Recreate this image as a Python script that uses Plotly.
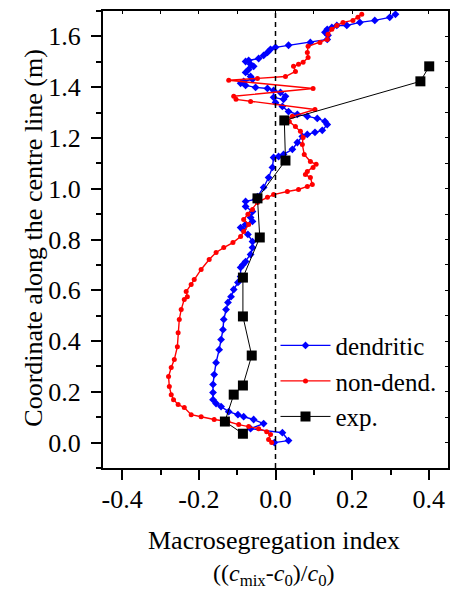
import plotly.graph_objects as go

# ---------------- data ----------------
dend_x = [-0.003, 0.034, 0.018, -0.065, -0.031, -0.057, -0.083, -0.098, -0.122, -0.142,
          -0.155, -0.163, -0.163, -0.163, -0.160, -0.155, -0.147, -0.142, -0.137, -0.135,
          -0.129, -0.124, -0.116, -0.109, -0.098, -0.091, -0.091, -0.085, -0.078, -0.065,
          -0.060, -0.060, -0.072, -0.085, -0.091, -0.078, -0.060, -0.065, -0.060, -0.078,
          -0.078, -0.052, -0.047, -0.031, -0.018, -0.008, -0.005, 0.008, 0.021, 0.044,
          0.057, 0.070, 0.083, 0.103, 0.122, 0.135, 0.129, 0.109, 0.083, 0.057,
          0.034, 0.018, 0.000, -0.005, 0.021, 0.026, 0.013, -0.005, -0.021, -0.052,
          -0.078, -0.091, -0.083, -0.060, -0.065, -0.078, -0.070, -0.057, -0.065, -0.078,
          -0.070, -0.044, -0.031, -0.021, -0.013, 0.000, 0.034, 0.091, 0.135, 0.137,
          0.129, 0.135, 0.147, 0.160, 0.186, 0.220, 0.259, 0.298, 0.313]
dend_y = [0.000, 0.008, 0.039, 0.055, 0.075, 0.091, 0.102, 0.110, 0.122, 0.142,
          0.154, 0.169, 0.197, 0.229, 0.268, 0.315, 0.366, 0.406, 0.445, 0.485,
          0.524, 0.552, 0.575, 0.603, 0.631, 0.654, 0.690, 0.701, 0.713, 0.741,
          0.768, 0.792, 0.820, 0.839, 0.847, 0.859, 0.871, 0.887, 0.910, 0.930,
          0.950, 0.958, 0.969, 1.005, 1.044, 1.084, 1.123, 1.127, 1.135, 1.155,
          1.182, 1.206, 1.214, 1.222, 1.230, 1.253, 1.265, 1.277, 1.285, 1.293,
          1.304, 1.324, 1.340, 1.360, 1.352, 1.364, 1.379, 1.387, 1.395, 1.399,
          1.407, 1.415, 1.423, 1.431, 1.442, 1.458, 1.470, 1.482, 1.490, 1.501,
          1.505, 1.513, 1.525, 1.537, 1.549, 1.557, 1.565, 1.576, 1.588, 1.604,
          1.616, 1.628, 1.635, 1.643, 1.643, 1.655, 1.663, 1.675, 1.687]

nond_x = [-0.010, -0.018, -0.013, -0.023, -0.044, -0.070, -0.096, -0.124, -0.160, -0.194,
          -0.220, -0.238, -0.254, -0.266, -0.272, -0.277, -0.279, -0.272, -0.264, -0.256,
          -0.254, -0.251, -0.246, -0.238, -0.230, -0.233, -0.220, -0.212, -0.194, -0.173,
          -0.155, -0.135, -0.111, -0.091, -0.083, -0.070, -0.083, -0.072, -0.060, -0.047,
          -0.021, -0.005, 0.031, 0.060, 0.083, 0.096, 0.091, 0.078, 0.083, 0.098,
          0.106, 0.091, 0.075, 0.070, 0.072, 0.065, 0.052, 0.036, 0.023, 0.044,
          0.103, -0.065, -0.103, -0.109, 0.098, -0.122, -0.047, 0.026, 0.052, 0.047,
          0.060, 0.072, 0.085, 0.083, 0.085, 0.116, 0.135, 0.137, 0.147, 0.160,
          0.176, 0.202, 0.215, 0.225]
nond_y = [0.000, 0.012, 0.032, 0.043, 0.055, 0.063, 0.071, 0.083, 0.091, 0.102,
          0.110, 0.138, 0.150, 0.169, 0.189, 0.221, 0.260, 0.296, 0.327, 0.378,
          0.433, 0.485, 0.524, 0.564, 0.575, 0.595, 0.623, 0.642, 0.682, 0.721,
          0.749, 0.768, 0.788, 0.812, 0.832, 0.859, 0.879, 0.899, 0.918, 0.946,
          0.966, 0.977, 0.989, 0.997, 1.009, 1.017, 1.044, 1.056, 1.068, 1.084,
          1.096, 1.107, 1.135, 1.174, 1.202, 1.226, 1.245, 1.265, 1.273, 1.285,
          1.312, 1.344, 1.352, 1.364, 1.395, 1.427, 1.434, 1.442, 1.462, 1.482,
          1.490, 1.498, 1.517, 1.537, 1.561, 1.576, 1.588, 1.608, 1.628, 1.643,
          1.655, 1.663, 1.675, 1.687]

exp_x = [-0.085, -0.132, -0.109, -0.085, -0.062, -0.085, -0.085, -0.041, -0.047, 0.026,
         0.023, 0.378, 0.401]
exp_y = [0.035, 0.083, 0.189, 0.225, 0.343, 0.497, 0.650, 0.808, 0.962, 1.111,
         1.269, 1.423, 1.482]

series_names = ["dendritic", "non-dend.", "exp."]

x_range = [-0.45, 0.45]
y_range = [-0.1, 1.7]
x_tickvals = [-0.4, -0.2, 0.0, 0.2, 0.4]
x_ticktext = ["-0.4", "-0.2", "0.0", "0.2", "0.4"]
y_tickvals = [0.0, 0.2, 0.4, 0.6, 0.8, 1.0, 1.2, 1.4, 1.6]
y_ticktext = ["0.0", "0.2", "0.4", "0.6", "0.8", "1.0", "1.2", "1.4", "1.6"]

FONT = "Liberation Serif"

fig = go.Figure()
fig.add_trace(go.Scatter(x=dend_x, y=dend_y, name=series_names[0], mode="lines+markers",
                         line=dict(color="#0000FF", width=1.4),
                         marker=dict(symbol="diamond", size=6, color="#0000FF")))
fig.add_trace(go.Scatter(x=nond_x, y=nond_y, name=series_names[1], mode="lines+markers",
                         line=dict(color="#FF0000", width=1.4),
                         marker=dict(symbol="circle", size=5, color="#FF0000")))
fig.add_trace(go.Scatter(x=exp_x, y=exp_y, name=series_names[2], mode="lines+markers",
                         line=dict(color="#000000", width=1),
                         marker=dict(symbol="square", size=10, color="#000000")))
# dummy trace for mirrored (inward) ticks on top/right
fig.add_trace(go.Scatter(x=[None], y=[None], xaxis="x2", yaxis="y2", showlegend=False,
                         hoverinfo="skip"))

axis_common = dict(showgrid=False, zeroline=False, showline=True, linecolor="black",
                   linewidth=2, tickcolor="black", tickwidth=1.5,
                   tickfont=dict(family=FONT, size=26, color="black"))

fig.update_layout(
    width=453, height=590,
    margin=dict(l=103, r=3, t=11, b=122),
    paper_bgcolor="white", plot_bgcolor="white",
    font=dict(family=FONT, size=26, color="black"),
    xaxis=dict(range=x_range, tickvals=x_tickvals, ticktext=x_ticktext,
               ticks="outside", ticklen=10, mirror=True, ticklabelstandoff=-3,
               minor=dict(dtick=0.1, tick0=0, ticks="outside", ticklen=5,
                          tickcolor="black", tickwidth=1.5),
               **axis_common),
    yaxis=dict(range=y_range, tickvals=y_tickvals, ticktext=y_ticktext,
               ticks="outside", ticklen=10, mirror=True, ticklabelstandoff=5,
               minor=dict(dtick=0.1, tick0=0, ticks="outside", ticklen=5,
                          tickcolor="black", tickwidth=1.5),
               **axis_common),
    xaxis2=dict(range=x_range, overlaying="x", side="top", anchor="y",
                showticklabels=False, showgrid=False, zeroline=False, showline=False,
                ticks="inside", ticklen=3, dtick=0.1, tick0=0,
                tickcolor="black", tickwidth=1),
    yaxis2=dict(range=y_range, overlaying="y", side="right", anchor="x",
                showticklabels=False, showgrid=False, zeroline=False, showline=False,
                ticks="inside", ticklen=3, dtick=0.1, tick0=0,
                tickcolor="black", tickwidth=1),
    legend=dict(x=0.50, y=0.318, xanchor="left", yanchor="top",
                bgcolor="rgba(0,0,0,0)", borderwidth=0,
                font=dict(family=FONT, size=25, color="black"),
                tracegroupgap=0, itemwidth=50),
    showlegend=True,
)

fig.add_shape(type="line", xref="x", yref="paper", x0=0, x1=0, y0=0, y1=1,
              line=dict(color="black", width=1.5, dash="5px,4px"))

fig.add_annotation(text="Coordinate along the centre line (m)", xref="paper", yref="paper",
                   x=-0.2, y=0.504, textangle=-90, showarrow=False,
                   xanchor="center", yanchor="middle",
                   font=dict(family=FONT, size=26, color="black"))
fig.add_annotation(text="Macrosegregation index", xref="paper", yref="paper",
                   x=0.497, y=-0.158, showarrow=False, xanchor="center", yanchor="middle",
                   font=dict(family=FONT, size=26, color="black"))
fig.add_annotation(text="((<i>c</i><sub>mix</sub>-<i>c</i><sub>0</sub>)/<i>c</i><sub>0</sub>)",
                   xref="paper", yref="paper",
                   x=0.497, y=-0.235, showarrow=False, xanchor="center", yanchor="middle",
                   font=dict(family=FONT, size=24, color="black"))

fig.write_html("out.html", config={"displayModeBar": False},
               post_script="document.body.style.margin='0';document.body.style.overflow='hidden';")
